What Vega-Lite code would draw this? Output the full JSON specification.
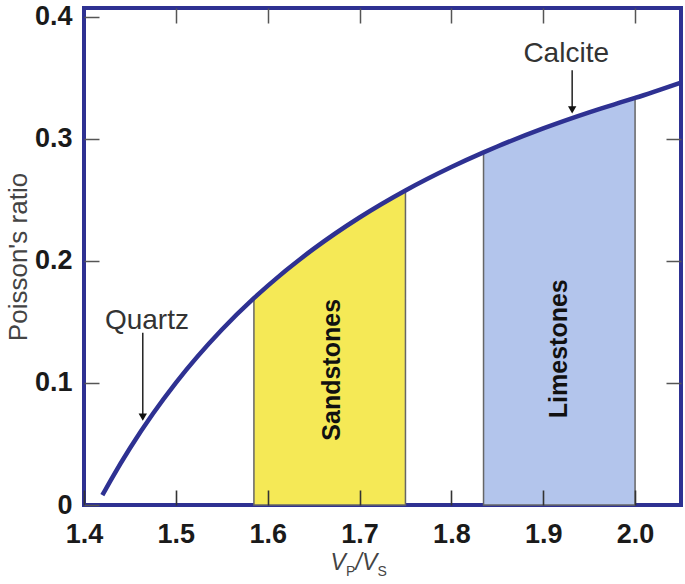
{
  "$schema": "https://vega.github.io/schema/vega-lite/v6.json",
  "width": 597,
  "height": 497,
  "autosize": {"type": "none"},
  "padding": {"left": 84, "top": 8, "right": 4, "bottom": 79},
  "background": "white",
  "config": {
    "view": {"stroke": "#2e3192", "strokeWidth": 4},
    "axis": {"grid": false, "domain": false, "zindex": 2}
  },
  "datasets": {
    "curve": [
      {"r": 1.42, "nu": 0.00807},
      {"r": 1.43, "nu": 0.02149},
      {"r": 1.45, "nu": 0.04649},
      {"r": 1.475, "nu": 0.07469},
      {"r": 1.5, "nu": 0.1},
      {"r": 1.55, "nu": 0.14349},
      {"r": 1.585, "nu": 0.16936},
      {"r": 1.6, "nu": 0.17949},
      {"r": 1.65, "nu": 0.20972},
      {"r": 1.7, "nu": 0.23545},
      {"r": 1.75, "nu": 0.25758},
      {"r": 1.8, "nu": 0.27679},
      {"r": 1.835, "nu": 0.28878},
      {"r": 1.85, "nu": 0.2936},
      {"r": 1.9, "nu": 0.30843},
      {"r": 1.95, "nu": 0.32159},
      {"r": 2.0, "nu": 0.33333},
      {"r": 2.05, "nu": 0.34600}
    ],
    "arrows": [
      {"mineral": "Quartz", "x": 1.464, "top": 0.141, "tip": 0.072},
      {"mineral": "Calcite", "x": 1.9315, "top": 0.356, "tip": 0.3235}
    ],
    "names": [
      {"text": "Quartz", "x": 1.4685, "y": 0.151},
      {"text": "Calcite", "x": 1.925, "y": 0.369}
    ],
    "rocks": [
      {"text": "Sandstones", "x": 1.6696, "y": 0.1107},
      {"text": "Limestones", "x": 1.917, "y": 0.128}
    ]
  },
  "layer": [
    {
      "data": {"name": "curve"},
      "transform": [{"filter": "datum.r >= 1.585 && datum.r <= 1.75"}],
      "mark": {"type": "area", "fill": "#f5e956", "stroke": "#666666", "strokeWidth": 1.5, "interpolate": "monotone"},
      "encoding": {
        "x": {
          "field": "r", "type": "quantitative",
          "scale": {"domain": [1.4, 2.05], "nice": false, "zero": false},
          "axis": {
            "orient": "bottom",
            "zindex": 2,
            "values": [1.4, 1.5, 1.6, 1.7, 1.8, 1.9, 2.0],
            "format": ".1f",
            "labelFlush": false,
            "tickSize": -15, "tickColor": "#333333", "tickWidth": 1.6,
            "labelPadding": 31,
            "labelFont": "Liberation Sans",
            "labelFontWeight": "bold", "labelFontSize": 27, "labelColor": "#1a1a1a",
            "title": null
          }
        },
        "y": {
          "field": "nu", "type": "quantitative",
          "scale": {"domain": [0, 0.407], "nice": false, "zero": true},
          "axis": {
            "orient": "left",
            "zindex": 2,
            "values": [0, 0.1, 0.2, 0.3, 0.4],
            "labelExpr": "datum.value === 0 ? '0' : format(datum.value, '.1f')",
            "tickSize": -15, "tickColor": "#555555", "tickWidth": 1.5,
            "labelPadding": 27,
            "labelFont": "Liberation Sans",
            "labelFontWeight": "bold", "labelFontSize": 27, "labelColor": "#1a1a1a",
            "title": "Poisson's ratio",
            "titleFont": "Liberation Sans", "titleFontWeight": "normal",
            "titleFontSize": 26, "titleColor": "#444444", "titlePadding": 3
          }
        }
      }
    },
    {
      "data": {"name": "curve"},
      "transform": [{"filter": "datum.r >= 1.835 && datum.r <= 2.0"}],
      "mark": {"type": "area", "fill": "#b3c5ec", "stroke": "#666666", "strokeWidth": 1.5, "interpolate": "monotone"},
      "encoding": {
        "x": {"field": "r", "type": "quantitative", "axis": null},
        "y": {"field": "nu", "type": "quantitative", "axis": null}
      }
    },
    {
      "data": {"name": "curve"},
      "mark": {"type": "line", "stroke": "#2e3192", "strokeWidth": 4.5, "interpolate": "monotone"},
      "encoding": {
        "x": {
          "field": "r", "type": "quantitative",
          "axis": {"orient": "top", "zindex": 2, "values": [1.5, 1.6, 1.7, 1.8, 1.9, 2.0], "labels": false, "title": null, "tickSize": -15, "tickColor": "#555555", "tickWidth": 1.5}
        },
        "y": {
          "field": "nu", "type": "quantitative",
          "axis": {"orient": "right", "zindex": 2, "values": [0.1, 0.2, 0.3], "labels": false, "title": null, "tickSize": -15, "tickColor": "#555555", "tickWidth": 1.5}
        }
      }
    },
    {
      "data": {"name": "arrows"},
      "mark": {"type": "rule", "color": "#222222", "strokeWidth": 1.5},
      "encoding": {
        "x": {"field": "x", "type": "quantitative", "axis": null},
        "y": {"field": "top", "type": "quantitative", "axis": null},
        "y2": {"field": "tip"}
      }
    },
    {
      "data": {"name": "arrows"},
      "mark": {"type": "point", "shape": "triangle-down", "filled": true, "color": "#111111", "size": 70, "opacity": 1},
      "encoding": {
        "x": {"field": "x", "type": "quantitative", "axis": null},
        "y": {"field": "tip", "type": "quantitative", "axis": null}
      }
    },
    {
      "data": {"name": "names"},
      "mark": {"type": "text", "font": "Liberation Sans", "fontSize": 28, "color": "#333333", "align": "center", "baseline": "middle"},
      "encoding": {
        "x": {"field": "x", "type": "quantitative", "axis": null},
        "y": {"field": "y", "type": "quantitative", "axis": null},
        "text": {"field": "text"}
      }
    },
    {
      "data": {"name": "rocks"},
      "mark": {"type": "text", "font": "Liberation Sans", "fontWeight": "bold", "fontSize": 25, "color": "#111111", "align": "center", "baseline": "middle", "angle": 270},
      "encoding": {
        "x": {"field": "x", "type": "quantitative", "axis": null},
        "y": {"field": "y", "type": "quantitative", "axis": null},
        "text": {"field": "text"}
      }
    },
    {
      "data": {"values": [{"piece": "V", "x": 1.6685, "y": -0.0533}, {"piece": "/V", "x": 1.6957, "y": -0.0533}]},
      "mark": {"type": "text", "font": "Liberation Sans", "fontStyle": "italic", "fontSize": 23, "color": "#444444", "align": "left", "baseline": "alphabetic"},
      "encoding": {
        "x": {"field": "x", "type": "quantitative", "axis": null},
        "y": {"field": "y", "type": "quantitative", "axis": null},
        "text": {"field": "piece"}
      }
    },
    {
      "data": {"values": [{"piece": "P", "x": 1.6852, "y": -0.0585}, {"piece": "S", "x": 1.7195, "y": -0.0585}]},
      "mark": {"type": "text", "font": "Liberation Sans", "fontSize": 14, "color": "#444444", "align": "left", "baseline": "alphabetic"},
      "encoding": {
        "x": {"field": "x", "type": "quantitative", "axis": null},
        "y": {"field": "y", "type": "quantitative", "axis": null},
        "text": {"field": "piece"}
      }
    }
  ],
  "resolve": {"axis": {"x": "independent", "y": "independent"}}
}
